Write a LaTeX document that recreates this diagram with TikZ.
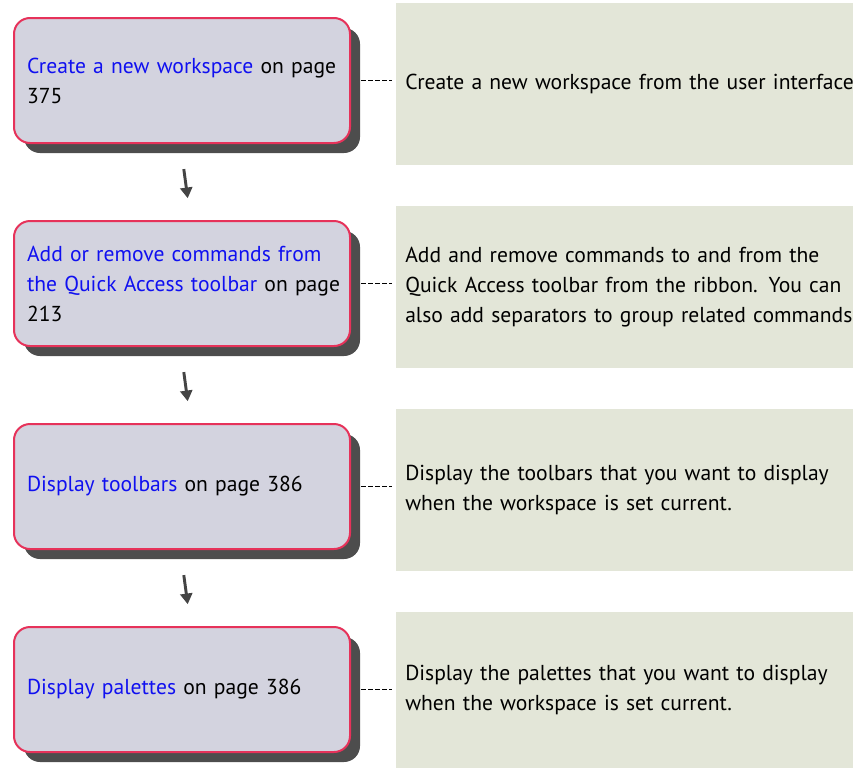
\documentclass[tikz,border=0pt]{standalone}
\usepackage{fontspec}
\setmainfont{PT Sans}
\usetikzlibrary{arrows.meta,shadows}
\definecolor{boxfill}{HTML}{D3D3DF}
\definecolor{boxline}{HTML}{E6325A}
\definecolor{shade}{HTML}{4D4D4D}
\definecolor{note}{HTML}{E3E6D8}
\definecolor{linkblue}{HTML}{1010F0}
\definecolor{arr}{HTML}{444444}
\newcommand\lnk[1]{\textcolor{linkblue}{#1}}
\begin{document}
\begin{tikzpicture}[x=0.75pt,y=-0.75pt,
  txt/.style={font=\fontsize{16.2}{22.5}\selectfont},
  stepbox/.style={txt,anchor=north west,draw=boxline,line width=1.5pt,fill=boxfill,
    rounded corners=12pt,minimum width=252pt,minimum height=93.75pt,
    text width=232.5pt,inner xsep=9.75pt,inner ysep=0pt,align=left,
    drop shadow={shadow xshift=7.5pt,shadow yshift=-7.5pt,fill=shade,opacity=1,draw=none}},
  notebox/.style={txt,anchor=north west,fill=note,minimum width=342.75pt,
    minimum height=121.5pt,text width=329.25pt,inner xsep=6.75pt,inner ysep=0pt,align=left},
  link/.style={line width=1.1pt,black,dash pattern=on 3.75pt off 1.5pt,
    shorten <=7.5pt,shorten >=3pt},
  flow/.style={arr,line width=2.2pt,-{Triangle[width=9pt,length=8pt]},
    shorten <=19pt,shorten >=16.5pt}]
\useasboundingbox (0,0) rectangle (853,768);
% note boxes
\node[notebox] (n1) at (396,3) {\mbox{Create a new workspace from the user interface}};
\node[notebox] (n2) at (396,206) {\mbox{Add and remove commands to and from the}\\ \mbox{Quick Access toolbar from the ribbon. You can}\\ \mbox{also add separators to group related commands}};
\node[notebox] (n3) at (396,409) {\mbox{Display the toolbars that you want to display}\\ \mbox{when the workspace is set current.}};
\node[notebox,minimum height=117pt] (n4) at (396,612) {\mbox{Display the palettes that you want to display}\\ \mbox{when the workspace is set current.}};
% step boxes
\node[stepbox] (b1) at (13,17) {\mbox{\lnk{Create a new workspace} on page}\\ 375\\[4pt]};
\node[stepbox] (b2) at (13,220) {\mbox{\lnk{Add or remove commands from}}\\ \mbox{\lnk{the Quick Access toolbar} on page}\\ 213\\[2pt]};
\node[stepbox] (b3) at (13,423) {\mbox{\lnk{Display toolbars} on page 386}\\[2pt]};
\node[stepbox] (b4) at (13,626) {\mbox{\lnk{Display palettes} on page 386}\\[2pt]};
% connectors
\foreach \i in {1,2,3,4} {
  \draw[link] (b\i.east) -- (b\i.east -| n\i.west);
}
\draw[flow] ([xshift=-1.2pt]b1.south) -- ([xshift=6.5pt]b2.north);
\draw[flow] ([xshift=-1.2pt]b2.south) -- ([xshift=6.5pt]b3.north);
\draw[flow] ([xshift=-1.2pt]b3.south) -- ([xshift=6.5pt]b4.north);
\end{tikzpicture}
\end{document}
